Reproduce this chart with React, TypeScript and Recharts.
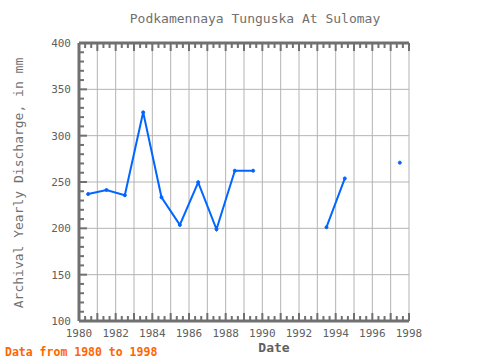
import { LineChart, Line, XAxis, YAxis, CartesianGrid, ReferenceLine } from 'recharts';

// yearly discharge, mm (points sit mid-year)
const YEARS = [1980.5, 1981.5, 1982.5, 1983.5, 1984.5, 1985.5, 1986.5, 1987.5, 1988.5, 1989.5, 1990.5, 1991.5, 1992.5, 1993.5, 1994.5, 1995.5, 1996.5, 1997.5];
const DISCHARGE = [237, 241.4, 235.7, 325.2, 233.5, 203.7, 249.7, 199, 262.2, 262.2, null, null, null, 201.2, 253.9, null, null, 270.9];

const X_LABELS = [1980, 1982, 1984, 1986, 1988, 1990, 1992, 1994, 1996, 1998];
const Y_LABELS = [100, 150, 200, 250, 300, 350, 400];

const FRAME = '#707070';
const GRID = '#b4b4b4';
const TEXT = '#606060';
const FONT = '"DejaVu Sans Mono", "Liberation Mono", monospace';

const data = YEARS.map((x, i) => ({ x, v: DISCHARGE[i] }));

// minor ticks: every 4 months on x, every 10 mm on y
const xTicks: number[] = [];
for (let y = 1980; y < 1998; y++) {
  xTicks.push(y, y + 1 / 3, y + 2 / 3);
}
xTicks.push(1998);
const gridYears: number[] = [];
for (let y = 1980; y <= 1998; y++) gridYears.push(y);
const yTicks: number[] = [];
for (let v = 100; v <= 400; v += 10) yTicks.push(v);

const isWhole = (v: number) => Math.abs(v - Math.round(v)) < 1e-6;

const BottomTick = ({ x, y, payload }: any) => {
  const v = payload.value;
  const major = isWhole(v);
  const lab = Math.round(v);
  return (
    <g>
      <line x1={x} y1={y} x2={x} y2={y - (major ? 8 : 5)} stroke={FRAME} strokeWidth={2} />
      {major && X_LABELS.includes(lab) && (
        <text x={x} y={y + 16} textAnchor="middle" fill={TEXT} fontSize={11} fontFamily={FONT}>
          {lab}
        </text>
      )}
    </g>
  );
};

const TopTick = ({ x, y, payload }: any) => (
  <line x1={x} y1={y} x2={x} y2={y + (isWhole(payload.value) ? 8 : 5)} stroke={FRAME} strokeWidth={2} />
);

const LeftTick = ({ x, y, payload }: any) => {
  const v = payload.value;
  const major = Y_LABELS.includes(v);
  return (
    <g>
      <line x1={x} y1={y} x2={x + (major ? 8 : 5)} y2={y} stroke={FRAME} strokeWidth={2} />
      {major && (
        <text x={x - 8} y={y + 4} textAnchor="end" fill={TEXT} fontSize={11} fontFamily={FONT}>
          {v}
        </text>
      )}
    </g>
  );
};

const RightTick = ({ x, y, payload }: any) => (
  <line x1={x} y1={y} x2={x - (Y_LABELS.includes(payload.value) ? 8 : 5)} y2={y} stroke={FRAME} strokeWidth={2} />
);

export default function App() {
  return (
    <div style={{ position: 'relative', width: 480, height: 360, background: '#fff', fontFamily: FONT }}>
      <style>{'body{margin:0}'}</style>
      <LineChart width={480} height={360} data={data} margin={{ top: 42, right: 71, bottom: 0, left: 39 }}>
        <CartesianGrid xAxisId="gx" yAxisId="l" stroke={GRID} horizontal={false} />
        <XAxis xAxisId="gx" dataKey="x" type="number" domain={[1980, 1998]} ticks={gridYears} interval={0} hide />
        {Y_LABELS.map((v) => (
          <ReferenceLine key={v} xAxisId="b" yAxisId="l" y={v} stroke={GRID} strokeWidth={1} />
        ))}
        <XAxis
          xAxisId="b"
          dataKey="x"
          type="number"
          domain={[1980, 1998]}
          ticks={xTicks}
          interval={0}
          height={39}
          tickSize={0}
          tickMargin={0}
          tick={<BottomTick />}
          tickLine={false}
          axisLine={{ stroke: FRAME, strokeWidth: 3 }}
        />
        <XAxis
          xAxisId="t"
          orientation="top"
          dataKey="x"
          type="number"
          domain={[1980, 1998]}
          ticks={xTicks}
          interval={0}
          height={1}
          tickSize={0}
          tickMargin={0}
          tick={<TopTick />}
          tickLine={false}
          axisLine={{ stroke: FRAME, strokeWidth: 3 }}
        />
        <YAxis
          yAxisId="l"
          type="number"
          domain={[100, 400]}
          ticks={yTicks}
          interval={0}
          width={40}
          tickSize={0}
          tickMargin={0}
          tick={<LeftTick />}
          tickLine={false}
          axisLine={{ stroke: FRAME, strokeWidth: 3 }}
        />
        <YAxis
          yAxisId="r"
          orientation="right"
          type="number"
          domain={[100, 400]}
          ticks={yTicks}
          interval={0}
          width={0}
          tickSize={0}
          tickMargin={0}
          tick={<RightTick />}
          tickLine={false}
          axisLine={{ stroke: FRAME, strokeWidth: 3 }}
        />
        <Line
          xAxisId="b"
          yAxisId="l"
          dataKey="v"
          stroke="#0066ff"
          strokeWidth={2}
          dot={{ r: 1.5, fill: '#0066ff', stroke: '#0066ff', strokeWidth: 1 }}
          connectNulls={false}
          isAnimationActive={false}
        />
      </LineChart>
      <div style={{ position: 'absolute', left: 255, top: 18, transform: 'translate(-50%, -50%)', whiteSpace: 'nowrap', fontSize: 13, color: FRAME }}>
        Podkamennaya Tunguska At Sulomay
      </div>
      <div style={{ position: 'absolute', left: 18, top: 183, transform: 'translate(-50%, -50%) rotate(-90deg)', whiteSpace: 'nowrap', fontSize: 13, color: FRAME }}>
        Archival Yearly Discharge, in mm
      </div>
      <div style={{ position: 'absolute', left: 274, top: 347, transform: 'translate(-50%, -50%)', whiteSpace: 'nowrap', fontSize: 13, fontWeight: 'bold', color: '#606060' }}>
        Date
      </div>
      <div style={{ position: 'absolute', left: 5, top: 352, transform: 'translateY(-50%)', whiteSpace: 'nowrap', fontSize: 11.5, fontWeight: 'bold', color: '#ff6600' }}>
        Data from 1980 to 1998
      </div>
    </div>
  );
}
